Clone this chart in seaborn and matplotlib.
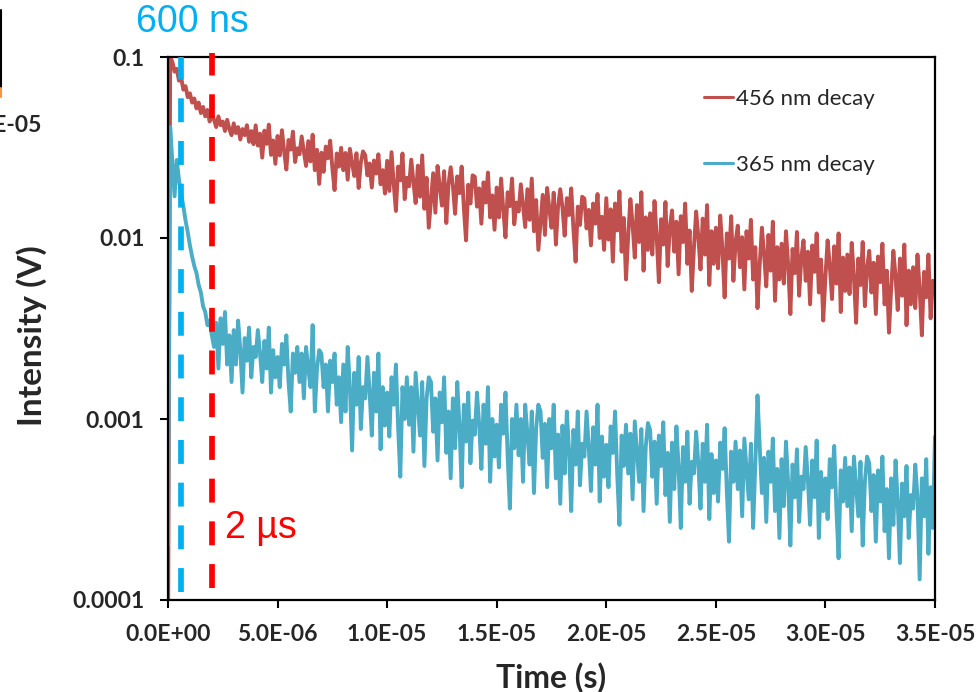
import numpy as np
import pandas as pd
import matplotlib
matplotlib.use("Agg")
import matplotlib.pyplot as plt
from matplotlib.lines import Line2D
from matplotlib.ticker import FixedLocator, FuncFormatter, NullLocator
import seaborn as sns

# Oscilloscope traces, one sample every 100 ns, intensity in volts
sample_step_s = 1e-7

intensity_456nm = [
    0.00005, 0.100, 0.094, 0.083, 0.086, 0.074, 0.077, 0.066, 0.069, 0.060,
    0.063, 0.056, 0.059, 0.052, 0.056, 0.049, 0.053, 0.047, 0.051, 0.044,
    0.048, 0.045, 0.041, 0.047, 0.042, 0.044, 0.039, 0.045, 0.040, 0.037,
    0.043, 0.038, 0.041, 0.035, 0.040, 0.037, 0.042, 0.034, 0.039, 0.033,
    0.0419, 0.0324, 0.0377, 0.0278, 0.0392, 0.0331, 0.0423, 0.0288, 0.0346, 0.0257,
    0.0366, 0.0286, 0.0394, 0.0301, 0.0239, 0.0348, 0.0308, 0.0387, 0.0263, 0.0313,
    0.0290, 0.0364, 0.0300, 0.0250, 0.0343, 0.0265, 0.0372, 0.0237, 0.0307, 0.0199,
    0.0296, 0.0232, 0.0320, 0.0276, 0.0345, 0.0243, 0.0184, 0.0293, 0.0248, 0.0315,
    0.0237, 0.0295, 0.0210, 0.0311, 0.0260, 0.0220, 0.0294, 0.0189, 0.0262, 0.0301,
    0.0287, 0.0222, 0.0258, 0.0190, 0.0268, 0.0227, 0.0290, 0.0198, 0.0237, 0.0176,
    0.0267, 0.0182, 0.0298, 0.0199, 0.0141, 0.0248, 0.0208, 0.0293, 0.0164, 0.0215,
    0.0193, 0.0271, 0.0204, 0.0156, 0.0251, 0.0169, 0.0286, 0.0145, 0.0215, 0.0114,
    0.0162, 0.0228, 0.0138, 0.0250, 0.0193, 0.0151, 0.0234, 0.0121, 0.0198, 0.0246,
    0.0194, 0.0136, 0.0219, 0.0177, 0.0248, 0.0147, 0.0097, 0.0197, 0.0155, 0.0222,
    0.0218, 0.0149, 0.0188, 0.0120, 0.0203, 0.0157, 0.0230, 0.0130, 0.0172, 0.0111,
    0.0190, 0.0130, 0.0213, 0.0143, 0.0101, 0.0179, 0.0150, 0.0213, 0.0119, 0.0157,
    0.0140, 0.0198, 0.0150, 0.0115, 0.0186, 0.0126, 0.0213, 0.0109, 0.0162, 0.0086,
    0.0123, 0.0173, 0.0104, 0.0189, 0.0145, 0.0114, 0.0178, 0.0092, 0.0150, 0.0186,
    0.0147, 0.0103, 0.0166, 0.0134, 0.0188, 0.0112, 0.0074, 0.0149, 0.0118, 0.0169,
    0.0165, 0.0113, 0.0143, 0.0091, 0.0155, 0.0120, 0.0175, 0.0100, 0.0131, 0.0086,
    0.0166, 0.0098, 0.0144, 0.0074, 0.0155, 0.0110, 0.0181, 0.0084, 0.0129, 0.0059,
    0.0103, 0.0164, 0.0119, 0.0078, 0.0152, 0.0095, 0.0179, 0.0066, 0.0130, 0.0086,
    0.0137, 0.0081, 0.0160, 0.0102, 0.0057, 0.0127, 0.0092, 0.0158, 0.0070, 0.0114,
    0.0142, 0.0084, 0.0123, 0.0063, 0.0132, 0.0095, 0.0155, 0.0072, 0.0110, 0.0051,
    0.0088, 0.0140, 0.0102, 0.0067, 0.0128, 0.0081, 0.0152, 0.0055, 0.0109, 0.0072,
    0.0114, 0.0068, 0.0133, 0.0086, 0.0047, 0.0106, 0.0077, 0.0132, 0.0058, 0.0095,
    0.0117, 0.0069, 0.0101, 0.0052, 0.0109, 0.0077, 0.0126, 0.0059, 0.0089, 0.0041,
    0.0071, 0.0114, 0.0082, 0.0054, 0.0104, 0.0066, 0.0123, 0.0045, 0.0089, 0.0059,
    0.0093, 0.0056, 0.0109, 0.0071, 0.0038, 0.0087, 0.0064, 0.0108, 0.0048, 0.0078,
    0.0097, 0.0058, 0.0084, 0.0043, 0.0091, 0.0065, 0.0106, 0.0050, 0.0076, 0.0035,
    0.0061, 0.0097, 0.0070, 0.0046, 0.0090, 0.0056, 0.0106, 0.0039, 0.0078, 0.0051,
    0.0081, 0.0049, 0.0094, 0.0061, 0.0034, 0.0077, 0.0055, 0.0095, 0.0042, 0.0068,
    0.0085, 0.0050, 0.0073, 0.0038, 0.0079, 0.0057, 0.0093, 0.0043, 0.0066, 0.0030,
    0.0053, 0.0085, 0.0061, 0.0040, 0.0077, 0.0048, 0.0092, 0.0033, 0.0066, 0.0043,
    0.0069, 0.0041, 0.0081, 0.0052, 0.0029, 0.0065, 0.0047, 0.0081, 0.0036, 0.0058,
    0.0050,
]

intensity_365nm = [
    0.0002, 0.041, 0.026, 0.017, 0.027, 0.021, 0.0175, 0.0150, 0.0125, 0.0108,
    0.0091, 0.0079, 0.0070, 0.0064, 0.0055, 0.0050, 0.0042, 0.0039, 0.0033, 0.0035,
    0.0029,
    0.0025, 0.0034, 0.0019, 0.0036, 0.0026, 0.0039, 0.0020, 0.0029, 0.0016,
    0.0031, 0.0020, 0.0035, 0.0024, 0.0014, 0.0028, 0.0021, 0.0032, 0.0017, 0.0025,
    0.0022, 0.0031, 0.0023, 0.0016, 0.0027, 0.0019, 0.0032, 0.0014, 0.0024, 0.0017,
    0.0022, 0.0015, 0.0026, 0.0020, 0.0029, 0.0016, 0.0011, 0.0023, 0.0018, 0.0025,
    0.0016, 0.0023, 0.0013, 0.0025, 0.0019, 0.0015, 0.0033, 0.0011, 0.0019, 0.0024,
    0.0023, 0.0015, 0.0020, 0.0011, 0.0021, 0.0016, 0.0023, 0.0012, 0.0017, 0.00096,
    0.0020, 0.0011, 0.0025, 0.0015, 0.00067, 0.0018, 0.0012, 0.0022, 0.00088, 0.0015,
    0.0013, 0.0022, 0.0014, 0.00081, 0.0018, 0.0011, 0.0023, 0.00068, 0.0015, 0.00092,
    0.0014, 0.00080, 0.0017, 0.0012, 0.0020, 0.00091, 0.00048, 0.0015, 0.0010, 0.0017,
    0.00093, 0.0015, 0.00066, 0.0018, 0.0012, 0.00081, 0.0016, 0.00055, 0.0013, 0.0017,
    0.0016, 0.00085, 0.0013, 0.00059, 0.0014, 0.00096, 0.0017, 0.00065, 0.0011, 0.00047,
    0.0013, 0.00069, 0.0016, 0.00092, 0.00042, 0.0012, 0.00075, 0.0014, 0.00057, 0.00098,
    0.00082, 0.0014, 0.00093, 0.00053, 0.0012, 0.00073, 0.0015, 0.00045, 0.0010, 0.00062,
    0.00093, 0.00054, 0.0012, 0.00083, 0.0014, 0.00062, 0.00032, 0.0010, 0.00069, 0.0012,
    0.00063, 0.0010, 0.00045, 0.0012, 0.00083, 0.00056, 0.0011, 0.00039, 0.00089, 0.0012,
    0.0011, 0.00061, 0.00094, 0.00042, 0.0010, 0.00069, 0.0012, 0.00047, 0.00082, 0.00034,
    0.00092, 0.00050, 0.0011, 0.00067, 0.00031, 0.00087, 0.00056, 0.0011, 0.00043, 0.00073,
    0.00062, 0.0011, 0.00070, 0.00040, 0.00090, 0.00056, 0.0012, 0.00035, 0.00080, 0.00048,
    0.00072, 0.00042, 0.00091, 0.00065, 0.0011, 0.00049, 0.00026, 0.00081, 0.00055, 0.00093,
    0.00050, 0.00083, 0.00036, 0.00097, 0.00066, 0.00045, 0.00088, 0.00031, 0.00070, 0.00095,
    0.00087, 0.00048, 0.00075, 0.00034, 0.00081, 0.00055, 0.00096, 0.00038, 0.00065, 0.00027,
    0.00074, 0.00041, 0.00091, 0.00054, 0.00025, 0.00070, 0.00045, 0.00085, 0.00034, 0.00058,
    0.00050, 0.00085, 0.00057, 0.00032, 0.00073, 0.00045, 0.00093, 0.00028, 0.00064, 0.00039,
    0.00059, 0.00035, 0.00074, 0.00053, 0.00089, 0.00040, 0.00021, 0.00066, 0.00045, 0.00075,
    0.00041, 0.00067, 0.00029, 0.00078, 0.00053, 0.00036, 0.00073, 0.00025, 0.00056, 0.00135,
    0.00071, 0.00039, 0.00061, 0.00027, 0.00066, 0.00045, 0.00078, 0.00031, 0.00053, 0.00022,
    0.00060, 0.00033, 0.00075, 0.00044, 0.00020, 0.00056, 0.00037, 0.00068, 0.00027, 0.00048,
    0.00041, 0.00070, 0.00046, 0.00026, 0.00059, 0.00037, 0.00076, 0.00022, 0.00051, 0.00031,
    0.00047, 0.00028, 0.00060, 0.00042, 0.00071, 0.00032, 0.00017, 0.00052, 0.00035, 0.00061,
    0.00033, 0.00054, 0.00024, 0.00062, 0.00042, 0.00029, 0.00058, 0.00020, 0.00045, 0.00062,
    0.00057, 0.00031, 0.00049, 0.00021, 0.00052, 0.00035, 0.00062, 0.00024, 0.00041, 0.00017,
    0.00047, 0.00026, 0.00059, 0.00035, 0.00016, 0.00044, 0.00029, 0.00055, 0.00022, 0.00038,
    0.00032, 0.00056, 0.00037, 0.00013, 0.00047, 0.00029, 0.00060, 0.00018, 0.00042, 0.00025,
    0.00080,
]

series_names = ["456 nm decay", "365 nm decay"]
series_colors = ["#C0504D", "#4BACC6"]

marker_times_s = [600e-9, 2e-6]
marker_labels = ["600 ns", "2 µs"]
marker_colors = ["#00B0F0", "#FF0000"]

x_ticks = [0.0, 5e-6, 1e-5, 1.5e-5, 2e-5, 2.5e-5, 3e-5, 3.5e-5]
y_ticks = [1e-4, 1e-3, 1e-2, 1e-1]
y_tick_labels = ["0.0001", "0.001", "0.01", "0.1"]

# long-form table for seaborn
frames = []
for name, values in zip(series_names, [intensity_456nm, intensity_365nm]):
    t = np.arange(len(values)) * sample_step_s
    frames.append(pd.DataFrame({"Time (s)": t, "Intensity (V)": values, "trace": name}))
data = pd.concat(frames, ignore_index=True)

sns.set_style("white")
plt.rcParams["font.family"] = ["Lato", "DejaVu Sans"]

W, H = 976, 692
fig = plt.figure(figsize=(W / 100, H / 100), dpi=100)
ax_l, ax_r, ax_t, ax_b = 168, 935, 57, 600
ax = fig.add_axes([ax_l / W, 1 - ax_b / H, (ax_r - ax_l) / W, (ax_b - ax_t) / H])

sns.lineplot(
    data=data, x="Time (s)", y="Intensity (V)", hue="trace",
    hue_order=series_names, palette=dict(zip(series_names, series_colors)),
    estimator=None, sort=False, linewidth=2.8, ax=ax, legend=False,
)

ax.set_yscale("log")
ax.set_xlim(0, 3.5e-5)
ax.set_ylim(1e-4, 1e-1)
ax.xaxis.set_major_locator(FixedLocator(x_ticks))
ax.xaxis.set_major_formatter(FuncFormatter(lambda v, p: f"{v:.1E}"))
ax.yaxis.set_major_locator(FixedLocator(y_ticks))
ax.yaxis.set_major_formatter(FuncFormatter(lambda v, p: y_tick_labels[p] if p < len(y_tick_labels) else ""))
ax.yaxis.set_minor_locator(NullLocator())
ax.xaxis.set_minor_locator(NullLocator())

ax.tick_params(axis="both", which="major", direction="out", length=6, width=1.5,
               color="black", labelsize=16.5, pad=11, bottom=True, left=True)
for lab in ax.get_xticklabels() + ax.get_yticklabels():
    lab.set_fontweight("bold")
for sp in ax.spines.values():
    sp.set_color("black")
    sp.set_linewidth(1.6)

ax.set_xlabel("Time (s)", fontsize=23, fontweight="bold")
ax.set_ylabel("Intensity (V)", fontsize=24, fontweight="bold")
ax.xaxis.set_label_coords(0.5, (ax_b - 662) / (ax_b - ax_t))
ax.yaxis.set_label_coords((47 - ax_l) / (ax_r - ax_l), (ax_b - 336) / (ax_b - ax_t))

# dashed markers for the two time scales
ax.axvline(marker_times_s[0], ymin=0.0147, ymax=1.0, color=marker_colors[0],
           linewidth=4.1, linestyle=(0, (4.2, 3.3)), zorder=5, clip_on=False)
ax.axvline(marker_times_s[1], ymin=0.022, ymax=1.007, color=marker_colors[1],
           linewidth=4.1, linestyle=(0, (4.2, 3.3)), zorder=5, clip_on=False)

fig.text(192 / W, 1 - 22 / H, marker_labels[0], color=marker_colors[0],
         fontsize=27, family="Liberation Sans", ha="center", va="center")
fig.text(225 / W, 1 - 528 / H, marker_labels[1], color=marker_colors[1],
         fontsize=27, family="Liberation Sans", ha="left", va="center")

handles = [Line2D([], [], color=c, linewidth=2.2) for c in series_colors]
ax.legend(handles, series_names, loc="upper left", bbox_to_anchor=(704 / W, 1 - 89 / H),
          bbox_transform=fig.transFigure, frameon=False, fontsize=16,
          handlelength=1.3, handletextpad=0.12, labelspacing=2.07, borderpad=0,
          borderaxespad=0)

# remnants of a neighbouring panel at the left edge
fig.add_artist(Line2D([1 / W, 1 / W], [1 - 10 / H, 1 - 88 / H], color="black", linewidth=1.5))
fig.add_artist(Line2D([1 / W, 1 / W], [1 - 88 / H, 1 - 97 / H], color="#F79646", linewidth=1.5))
fig.text(41 / W, 1 - 125 / H, "2.0E-05", fontsize=16.5, fontweight="bold",
         ha="right", va="center")

fig.savefig("out.png", dpi=100)
